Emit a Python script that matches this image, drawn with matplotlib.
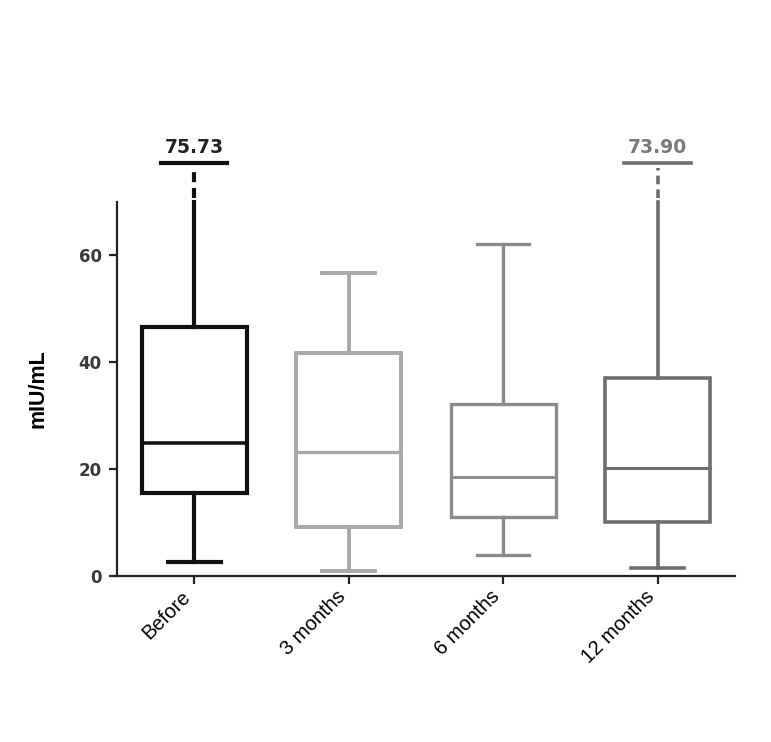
import matplotlib
matplotlib.use("Agg")
import matplotlib.pyplot as plt
import matplotlib.transforms as mtransforms
from matplotlib.patches import Rectangle

categories = ["Before", "3 months", "6 months", "12 months"]
q1 = [15.5, 9.2, 11.0, 10.1]
median = [24.9, 23.2, 18.5, 20.2]
q3 = [46.5, 41.7, 32.1, 37.0]
whisker_low = [2.6, 0.9, 3.9, 1.5]
whisker_high = [75.73, 56.6, 62.1, 73.90]
y_ticks = [0, 20, 40, 60]

colors = ["#111111", "#a9a9a9", "#8b8b8b", "#6e6e6e"]
label_colors = ["#222222", "#8a8a8a", "#8a8a8a", "#7a7a7a"]
lw = [3.0, 2.8, 2.4, 2.6]

plt.rcParams['font.family'] = ['Liberation Sans', 'DejaVu Sans']
fig = plt.figure(figsize=(7.71, 7.42), dpi=100)
ax = fig.add_axes([0.1518, 0.2237, 0.953 - 0.1518, 0.7284 - 0.2237])
ymax = 70
ax.set_xlim(-0.5, 3.5)
ax.set_ylim(0, ymax)

box_w = 0.68
cap_w = 0.34
break_cap_w = 0.43
break_y = 77.2

for i in range(len(categories)):
    c = colors[i]
    w = lw[i]
    ax.add_patch(Rectangle((i - box_w / 2, q1[i]), box_w, q3[i] - q1[i],
                           fill=False, edgecolor=c, linewidth=w, zorder=3))
    ax.plot([i - box_w / 2, i + box_w / 2], [median[i], median[i]], color=c, lw=w * 0.85, zorder=3)
    # lower whisker
    ax.plot([i, i], [whisker_low[i], q1[i]], color=c, lw=w, zorder=3)
    ax.plot([i - cap_w / 2, i + cap_w / 2], [whisker_low[i], whisker_low[i]], color=c, lw=w, zorder=3)
    if whisker_high[i] > ymax:
        ax.plot([i, i], [q3[i], ymax], color=c, lw=w, zorder=3, clip_on=False)
        ax.plot([i, i], [ymax + 0.6, break_y - 1.0], color=c, lw=w, zorder=3,
                linestyle=(0, (2.4, 1.4)), clip_on=False)
        ax.plot([i - break_cap_w / 2, i + break_cap_w / 2], [break_y, break_y], color=c, lw=w,
                zorder=3, clip_on=False)
        ax.text(i, break_y + 1.1, f"{whisker_high[i]:.2f}", ha="center", va="bottom",
                fontsize=13.5, fontweight="bold", color=label_colors[i], clip_on=False,
                family="DejaVu Sans")
    else:
        ax.plot([i, i], [q3[i], whisker_high[i]], color=c, lw=w, zorder=3)
        ax.plot([i - cap_w / 2, i + cap_w / 2], [whisker_high[i], whisker_high[i]], color=c, lw=w, zorder=3)

ax.spines['top'].set_visible(False)
ax.spines['right'].set_visible(False)
for s in ['left', 'bottom']:
    ax.spines[s].set_linewidth(1.6)
    ax.spines[s].set_color("#222222")

ax.set_yticks(y_ticks)
ax.set_yticklabels([str(t) for t in y_ticks], fontsize=12, fontweight="bold", color="#3a3a3a",
                   family="DejaVu Sans")
ax.set_xticks(range(len(categories)))
ax.set_xticklabels([])
base = mtransforms.blended_transform_factory(ax.transData, ax.transAxes)
offset = mtransforms.ScaledTranslation(-13 / 100, -11 / 100, fig.dpi_scale_trans)
for i, cat in enumerate(categories):
    ax.text(i, 0, cat, transform=base + offset, rotation=45, ha="right", va="top",
            rotation_mode="anchor", fontsize=14.5, clip_on=False)
ax.tick_params(axis='both', direction='out', length=6, width=1.6, color="#222222")
ax.tick_params(axis='y', pad=5)
ax.set_ylabel("mIU/mL", fontsize=15.5, fontweight="bold", labelpad=22)

fig.savefig("out.png", dpi=100)
